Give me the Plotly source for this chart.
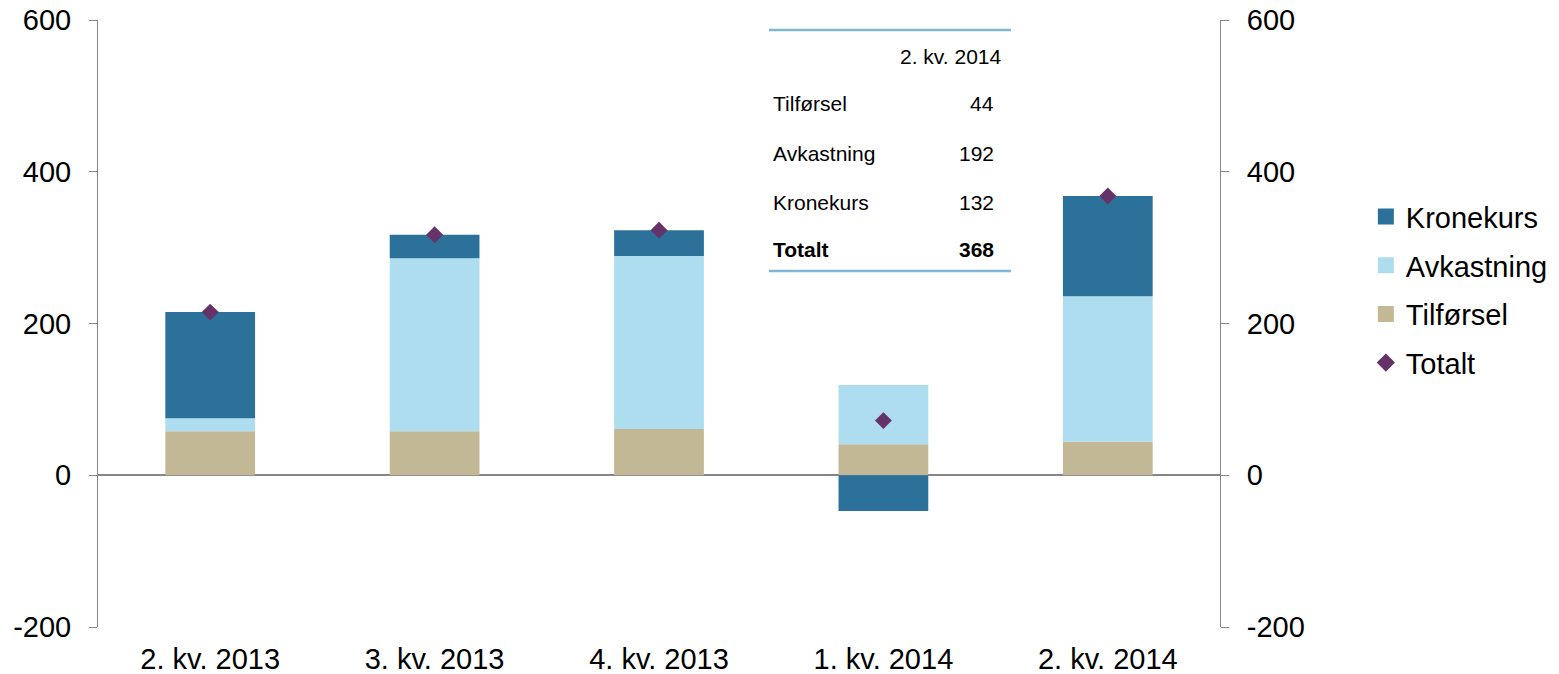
import plotly.graph_objects as go

categories = ["2. kv. 2013", "3. kv. 2013", "4. kv. 2013", "1. kv. 2014", "2. kv. 2014"]
tilforsel = [58, 58, 61, 41, 44]
avkastning = [17, 228, 228, 78, 192]
kronekurs = [140, 31, 34, -47, 132]
totalt = [215, 317, 323, 72, 368]

y_ticks = [-200, 0, 200, 400, 600]
y_ticktext = ["-200", "0", "200", "400", "600"]

C_KRON = "#2B7199"
C_AVK = "#AEDDEF"
C_TILF = "#C3B896"
C_TOT = "#66326A"
FONT = "Liberation Sans, Arial, sans-serif"
FS = 29

fig = go.Figure()
fig.add_trace(go.Bar(x=categories, y=tilforsel, name="Tilførsel", marker_color=C_TILF,
                     marker_line_width=0, showlegend=False))
fig.add_trace(go.Bar(x=categories, y=avkastning, name="Avkastning", marker_color=C_AVK,
                     marker_line_width=0, showlegend=False))
fig.add_trace(go.Bar(x=categories, y=kronekurs, name="Kronekurs", marker_color=C_KRON,
                     marker_line_width=0, showlegend=False))
fig.add_trace(go.Scatter(x=categories, y=totalt, name="Totalt", mode="markers",
                         marker=dict(symbol="diamond", size=13, color=C_TOT),
                         showlegend=False))
# legend entries
for name, col, sym, sz, rank in [("Kronekurs", C_KRON, "square", 17, 1),
                                 ("Avkastning", C_AVK, "square", 17, 2),
                                 ("Tilførsel", C_TILF, "square", 17, 3),
                                 ("Totalt", C_TOT, "diamond", 14, 4)]:
    fig.add_trace(go.Scatter(x=[None], y=[None], name=name, mode="markers",
                             marker=dict(symbol=sym, size=sz, color=col),
                             legendrank=rank, legendgroup=name))
fig.add_trace(go.Scatter(x=categories, y=totalt, yaxis="y2", mode="markers",
                         marker=dict(opacity=0), showlegend=False, hoverinfo="skip"))

axis_common = dict(range=[-200, 600], tickvals=y_ticks, ticktext=y_ticktext, showgrid=False,
                   showline=True, linecolor="#868686", linewidth=1,
                   ticks="outside", ticklen=8, tickcolor="#868686",
                   tickfont=dict(size=FS), automargin=False, ticklabelstandoff=12,
                   ticklabeloverflow="allow")

fig.update_layout(
    width=1559, height=674,
    margin=dict(l=98, r=339, t=20, b=47, autoexpand=False),
    paper_bgcolor="white", plot_bgcolor="white",
    barmode="relative", bargap=0.6,
    font=dict(family=FONT, size=FS, color="black"),
    showlegend=True,
    legend=dict(x=1.13, y=0.718, xanchor="left", yanchor="top",
                font=dict(size=FS), tracegroupgap=8, itemwidth=30, itemsizing="trace"),
    xaxis=dict(showline=False, ticks="", tickfont=dict(size=FS), automargin=False,
               ticklabelstandoff=12, ticklabeloverflow="allow"),
    yaxis=dict(**axis_common, zeroline=True, zerolinecolor="#868686", zerolinewidth=2),
    yaxis2=dict(**axis_common, overlaying="y", side="right", zeroline=False),
)

x0, x1 = 0.598, 0.8137
line_col = "#7FB6D2"
for yy in [0.9835, 0.5865]:
    fig.add_shape(type="line", xref="paper", yref="paper", x0=x0, x1=x1, y0=yy, y1=yy,
                  line=dict(color=line_col, width=2.5))

def py(pix):
    return (627 - pix) / 607

TF = 21
fig.add_annotation(xref="paper", yref="paper", x=(1003 - 98) / 1122, y=py(57),
                   text=categories[-1], showarrow=False, xanchor="right", yanchor="middle",
                   font=dict(size=TF))
rows = [("Tilførsel", tilforsel[-1], 104), ("Avkastning", avkastning[-1], 153),
        ("Kronekurs", kronekurs[-1], 202), ("<b>Totalt</b>", totalt[-1], 250)]
for i, (lab, val, ypix) in enumerate(rows):
    valtxt = f"<b>{val}</b>" if i == 3 else str(val)
    fig.add_annotation(xref="paper", yref="paper", x=(771 - 98) / 1122, y=py(ypix),
                       text=lab, showarrow=False, xanchor="left", yanchor="middle",
                       font=dict(size=TF))
    fig.add_annotation(xref="paper", yref="paper", x=(996 - 98) / 1122, y=py(ypix),
                       text=valtxt, showarrow=False, xanchor="right", yanchor="middle",
                       font=dict(size=TF))

fig.write_html("out.html", config={"displayModeBar": False},
               post_script="document.body.style.margin='0';")
